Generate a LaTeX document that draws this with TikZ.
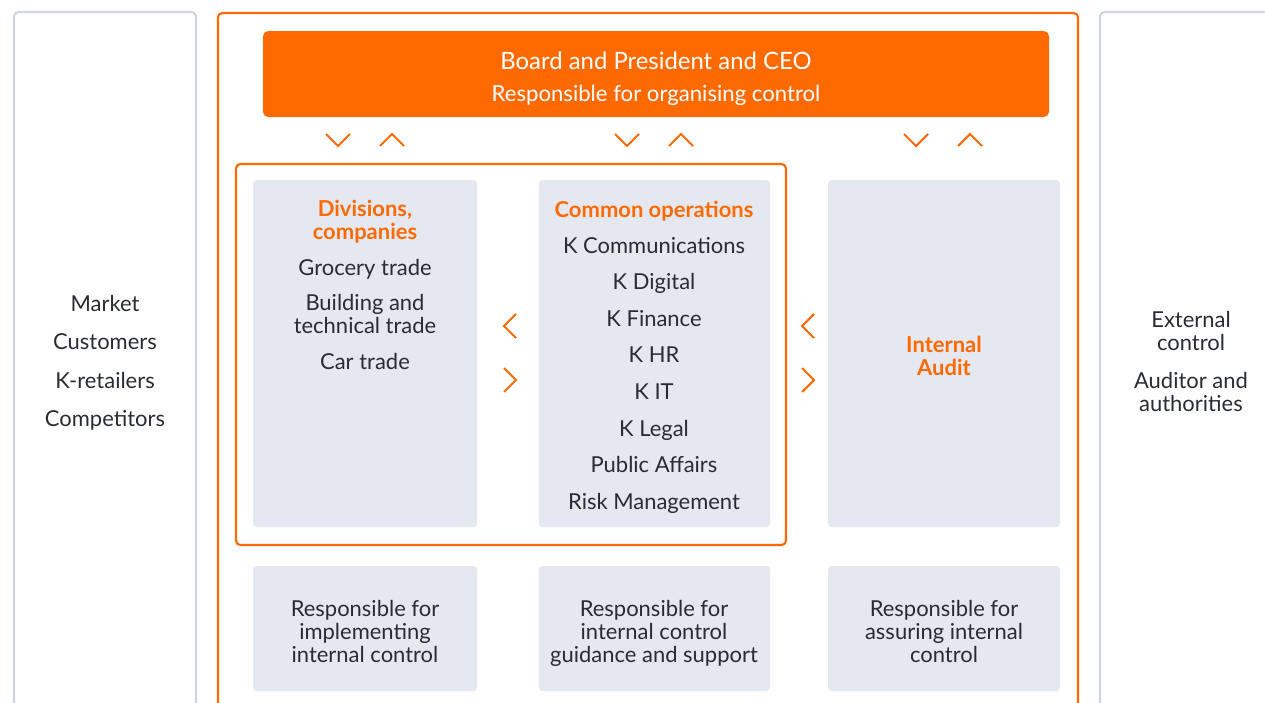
\documentclass[tikz,border=0pt]{standalone}
\usepackage{fontspec}
\setmainfont{Lato}
\usetikzlibrary{positioning}

\definecolor{kesko}{RGB}{255,106,0}
\definecolor{boxgrey}{RGB}{229,232,240}
\definecolor{panelline}{RGB}{207,214,226}
\definecolor{ink}{RGB}{42,44,51}

\tikzset{
  panel/.style={draw=panelline, line width=1.2pt, rounded corners=2.5pt},
  frame/.style={draw=kesko, line width=1.2pt, rounded corners=2.5pt},
  greybox/.style={fill=boxgrey, rounded corners=2pt},
  lbl/.style={text=ink, align=center, inner sep=0pt, anchor=base,
    font=\fontsize{12.5}{12.6}\selectfont},
  head/.style={lbl, text=kesko, font=\bfseries\fontsize{12.5}{12.8}\selectfont},
  chev/.style={draw=kesko, line width=1.2pt},
  chevdown/.pic={\draw[chev] (-12,-6) -- (0,6) -- (12,-6);},
  chevup/.pic={\draw[chev] (-12,6) -- (0,-6) -- (12,6);},
  chevleft/.pic={\draw[chev] (6,-12) -- (-6,0) -- (6,12);},
  chevright/.pic={\draw[chev] (-6,-12) -- (6,0) -- (-6,12);},
}

\begin{document}
\begin{tikzpicture}[x=0.02cm, y=-0.02cm]
\clip (0,0) rectangle (1265,703);

% side panels and frames
\draw[panel] (14,12) rectangle (196,730);
\draw[panel] (1100,12) rectangle (1300,730);
\draw[frame] (218,13) rectangle (1078,730);
\draw[frame] (236,164) rectangle (786,545);

% board
\fill[kesko, rounded corners=3pt] (263,31) rectangle (1049,117);
\node[lbl, text=white, font=\fontsize{12.6}{18}\selectfont] (ceo) at (656,101)
  {{\fontsize{13.6}{18}\selectfont Board and President and CEO}\\Responsible for organising control};

% grey boxes
\fill[greybox] (253,180) rectangle (477,527);
\fill[greybox] (539,180) rectangle (770,527);
\fill[greybox] (828,180) rectangle (1060,527);
\fill[greybox] (253,566) rectangle (477,691);
\fill[greybox] (539,566) rectangle (770,691);
\fill[greybox] (828,566) rectangle (1060,691);

% chevrons
\foreach \x in {338,627,916} \pic at (\x,140) {chevdown};
\foreach \x in {392,681,970} \pic at (\x,140) {chevup};
\foreach \x in {510,808} {
  \pic at (\x,326) {chevleft};
  \pic at (\x,380) {chevright};
}

% market side
\foreach \txt [count=\i] in {Market, Customers, K-retailers, Competitors}
  \node[lbl] (mk\i) at (105,{311+38.5*(\i-1)}) {\txt};

% divisions
\node[head] (div) at (365,239) {Divisions,\\companies};
\node[lbl] (div1) at (365,275) {Grocery trade};
\node[lbl] (div2) at (365,333) {Building and\\technical trade};
\node[lbl] (div3) at (365,369) {Car trade};

% common operations
\node[head] (com) at (654,217) {Common operations};
\foreach \txt [count=\i] in {K Communications, K Digital, K Finance, K HR,
    K IT, K Legal, Public Affairs, Risk Management}
  \node[lbl] (com\i) at (654,{253+36.6*(\i-1)}) {\txt};

% internal audit
\node[head] (aud) at (944,375) {Internal\\Audit};

% responsibilities
\tikzset{resp/.style={lbl, font=\fontsize{12.5}{13}\selectfont}}
\node[resp] (res1) at (365,662) {Responsible for\\implementing\\internal control};
\node[resp] (res2) at (654,662) {Responsible for\\internal control\\guidance and support};
\node[resp] (res3) at (944,662) {Responsible for\\assuring internal\\control};

% external side
\node[lbl] (ext1) at (1191,350) {External\\control};
\node[lbl] (ext2) at (1191,411) {Auditor and\\authorities};
\end{tikzpicture}
\end{document}
